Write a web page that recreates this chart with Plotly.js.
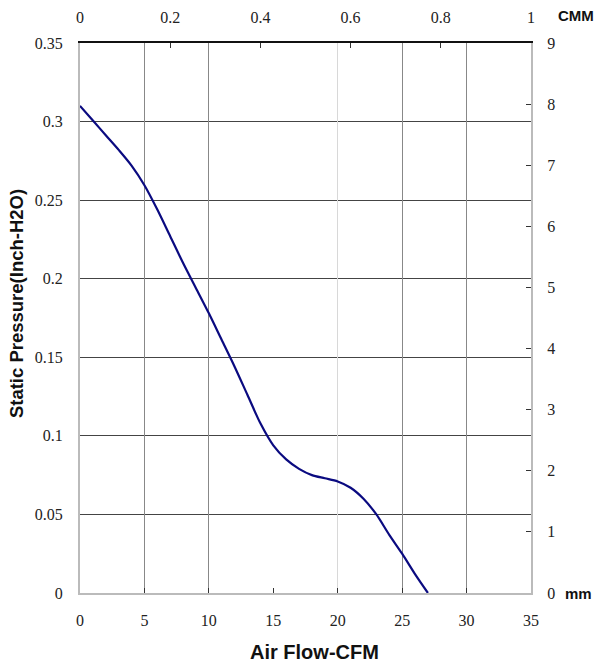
<!DOCTYPE html>
<html>
<head>
<meta charset="utf-8">
<script src="https://cdn.plot.ly/plotly-3.0.1.min.js"></script>
<style>html,body{margin:0;padding:0;background:#fff;}#chart{width:604px;height:670px;}</style>
</head>
<body>
<div id="chart"></div>
<script>
// Air flow (CFM) and static pressure (inch-H2O)
const airflowCFM = [0, 1, 2, 3, 4, 5, 6, 7, 8, 9, 10, 11, 12, 13, 14, 15, 16, 17, 18, 19, 20, 21, 22, 23, 24, 25, 26, 27];
const pressureInH2O = [0.310, 0.3007, 0.2913, 0.2820, 0.2720, 0.2595, 0.244, 0.227, 0.210, 0.194, 0.178, 0.161, 0.144, 0.126, 0.108, 0.094, 0.085, 0.079, 0.075, 0.073, 0.071, 0.067, 0.060, 0.050, 0.037, 0.025, 0.012, 0.0];

const cfmTicks = [0, 5, 10, 15, 20, 25, 30, 35];
const cfmGridDark = [5, 10, 25, 30];
const cfmGridLight = [20];
const cmmTicks = [0, 0.2, 0.4, 0.6, 0.8, 1];
const pressureTicks = [0, 0.05, 0.1, 0.15, 0.2, 0.25, 0.3, 0.35];
const mmTicks = [0, 1, 2, 3, 4, 5, 6, 7, 8, 9];

// unit conversions for the secondary (CMM / mm) axes
const CFM_PER_CMM = 35;
const INH2O_PER_MM = 0.35 / 9;

const SERIF = 'Liberation Serif, Times New Roman, DejaVu Serif, serif';
const SANS = 'Liberation Sans, Arial, sans-serif';
function tf() { return {family: SERIF, size: 16, color: '#222'}; }

const data = [
  {
    x: airflowCFM, y: pressureInH2O, type: 'scatter', mode: 'lines',
    line: {color: '#0a0a80', width: 2.2, shape: 'spline', smoothing: 0.8},
    xaxis: 'x', yaxis: 'y', hoverinfo: 'skip', showlegend: false
  },
  // invisible helper traces so the secondary axes / grid overlays are drawn
  {
    x: airflowCFM.map(v => v / CFM_PER_CMM), y: pressureInH2O.map(v => v / INH2O_PER_MM),
    type: 'scatter', mode: 'lines', line: {color: 'rgba(0,0,0,0)', width: 0},
    xaxis: 'x2', yaxis: 'y2', hoverinfo: 'skip', showlegend: false
  },
  {
    x: airflowCFM, y: pressureInH2O, type: 'scatter', mode: 'lines', line: {color: 'rgba(0,0,0,0)', width: 0},
    xaxis: 'x3', yaxis: 'y', hoverinfo: 'skip', showlegend: false
  },
  {
    x: airflowCFM, y: pressureInH2O, type: 'scatter', mode: 'lines', line: {color: 'rgba(0,0,0,0)', width: 0},
    xaxis: 'x4', yaxis: 'y', hoverinfo: 'skip', showlegend: false
  }
];

const layout = {
  width: 604, height: 670,
  margin: {l: 80, r: 73, t: 43, b: 77},
  paper_bgcolor: '#fff', plot_bgcolor: '#fff',
  font: {family: SERIF, size: 16, color: '#222'},
  showlegend: false,
  xaxis: {
    range: [0, 35], tickvals: cfmTicks, ticktext: cfmTicks.map(String),
    ticks: 'inside', ticklen: 5, tickcolor: '#333', tickwidth: 1,
    showgrid: false, zeroline: false,
    showline: true, linecolor: '#bbb', linewidth: 2,
    tickfont: tf(), ticklabelstandoff: 12
  },
  xaxis3: {
    overlaying: 'x', anchor: 'y', range: [0, 35], tickvals: cfmGridDark,
    showticklabels: false, ticks: '', showgrid: true, gridcolor: '#888', gridwidth: 1,
    zeroline: false, showline: false
  },
  xaxis4: {
    overlaying: 'x', anchor: 'y', range: [0, 35], tickvals: cfmGridLight,
    showticklabels: false, ticks: '', showgrid: true, gridcolor: '#d8d8d8', gridwidth: 1.5,
    zeroline: false, showline: false
  },
  xaxis2: {
    overlaying: 'x', side: 'top', anchor: 'y2', range: [0, 1], tickvals: cmmTicks, ticktext: cmmTicks.map(String),
    ticks: 'inside', ticklen: 5, tickcolor: '#333',
    showgrid: false, zeroline: false,
    showline: true, linecolor: '#111', linewidth: 2,
    tickfont: tf(), ticklabelstandoff: 12
  },
  yaxis: {
    range: [0, 0.35], tickvals: pressureTicks, ticktext: pressureTicks.map(String),
    ticks: '', showgrid: true, gridcolor: '#444', gridwidth: 1,
    zeroline: false, showline: true, linecolor: '#bbb', linewidth: 2,
    tickfont: tf(), ticklabelstandoff: 12
  },
  yaxis2: {
    overlaying: 'y', side: 'right', anchor: 'x2', range: [0, 9], tickvals: mmTicks, ticktext: mmTicks.map(String),
    ticks: 'inside', ticklen: 5, tickcolor: '#333',
    showgrid: false, zeroline: false,
    showline: true, linecolor: '#bbb', linewidth: 2,
    tickfont: tf(), ticklabelstandoff: 11
  },
  annotations: [
    {text: '<b>Air Flow-CFM</b>', xref: 'paper', yref: 'paper', x: 0.521, y: -0.107, xanchor: 'center', yanchor: 'middle', showarrow: false,
     font: {family: SANS, size: 20, color: '#111'}},
    {text: '<b>Static Pressure(Inch-H2O)</b>', xref: 'paper', yref: 'paper', x: -0.142, y: 0.527, xanchor: 'center', yanchor: 'middle', showarrow: false,
     textangle: -90, font: {family: SANS, size: 18.5, color: '#111'}},
    {text: '<b>CMM</b>', xref: 'paper', yref: 'paper', x: 1.056, y: 1.05, xanchor: 'left', yanchor: 'middle', showarrow: false,
     font: {family: SANS, size: 15, color: '#111'}},
    {text: '<b>mm</b>', xref: 'paper', yref: 'paper', x: 1.07, y: 0, xanchor: 'left', yanchor: 'middle', showarrow: false,
     font: {family: SANS, size: 15, color: '#111'}}
  ]
};

Plotly.newPlot('chart', data, layout, {displayModeBar: false, staticPlot: true});
</script>
</body>
</html>
